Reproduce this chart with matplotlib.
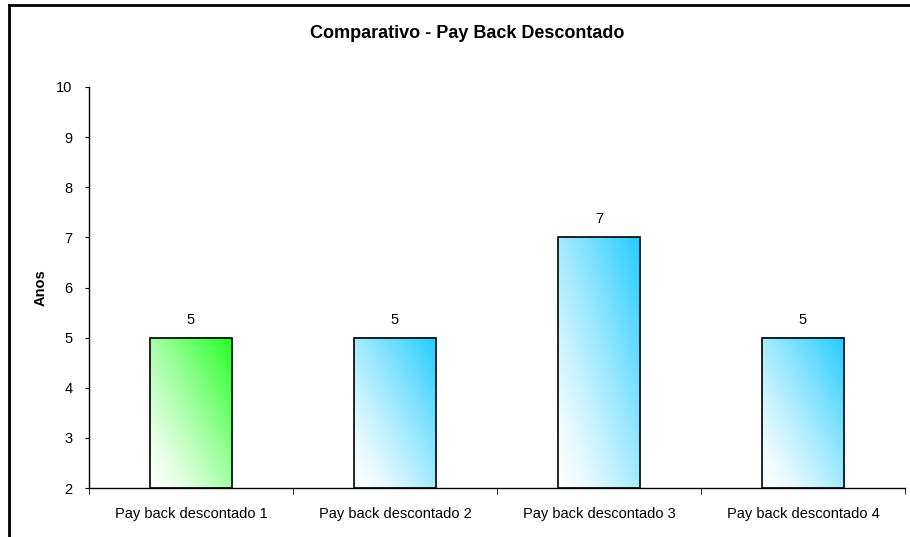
"""
Gráfico comparativo do pay back descontado (anos) por cenário.
"""
import numpy as np
import matplotlib.pyplot as plt
from matplotlib.colors import to_rgb
from matplotlib.lines import Line2D

plt.rcParams['font.family'] = ['Liberation Sans', 'DejaVu Sans']

categorias = ["Pay back descontado 1", "Pay back descontado 2",
              "Pay back descontado 3", "Pay back descontado 4"]
anos = [5, 5, 7, 5]
cores = ["#22ff22", "#22ccff", "#22ccff", "#22ccff"]
y_ticks = [2, 3, 4, 5, 6, 7, 8, 9, 10]


def gradiente(cor, n=128):
    """Degradê diagonal: branco embaixo-esquerda -> cor em cima-direita."""
    gx, gy = np.meshgrid(np.linspace(0, 1, n), np.linspace(0, 1, n))
    t = ((gx * 0.5 + gy * 0.5) ** 1.3)[..., None]
    branco = np.ones(3)
    return branco * (1 - t) + np.array(to_rgb(cor)) * t


fig = plt.figure(figsize=(9.1, 5.37), dpi=100)
ax = fig.add_axes([89 / 910, 49 / 537, 816 / 910, 401 / 537])

largura = 0.4
base = y_ticks[0]
for i, (v, c) in enumerate(zip(anos, cores)):
    x0, x1 = i - largura / 2, i + largura / 2
    ax.imshow(gradiente(c), extent=[x0, x1, base, v], origin="lower",
              aspect="auto", interpolation="bilinear", zorder=2)
    ax.bar(i, v - base, bottom=base, width=largura, facecolor="none",
           edgecolor="black", linewidth=1.2, zorder=3)
    ax.text(i, v + 0.22, str(v), ha="center", va="bottom", fontsize=10.5)

ax.set_xlim(-0.5, 3.5)
ax.set_ylim(2, 10)
ax.set_yticks(y_ticks)
ax.set_xticks(range(len(categorias)))
ax.set_xticklabels(categorias, fontsize=10.5)
ax.set_xticks(np.arange(-0.5, 4, 1), minor=True)
ax.tick_params(axis="x", which="major", length=0, pad=14)
ax.tick_params(axis="x", which="minor", length=4, direction="out")
ax.tick_params(axis="y", length=3, labelsize=10.5, pad=9)
for lado in ("top", "right"):
    ax.spines[lado].set_visible(False)
ax.spines["left"].set_linewidth(1)
ax.spines["bottom"].set_linewidth(1)
ax.set_ylabel("Anos", fontsize=10.5, fontweight="bold", labelpad=6)

fig.text(467 / 910, 1 - 33 / 537, "Comparativo - Pay Back Descontado",
         ha="center", va="center", fontsize=13, fontweight="bold")

# moldura da área do gráfico (só borda superior e esquerda aparecem)
fig.add_artist(Line2D([9 / 910, 9 / 910], [0, 1 - 5 / 537],
                      transform=fig.transFigure, color="black", linewidth=2))
fig.add_artist(Line2D([9 / 910, 1], [1 - 5 / 537, 1 - 5 / 537],
                      transform=fig.transFigure, color="black", linewidth=2))

fig.savefig("out.png", dpi=100)
